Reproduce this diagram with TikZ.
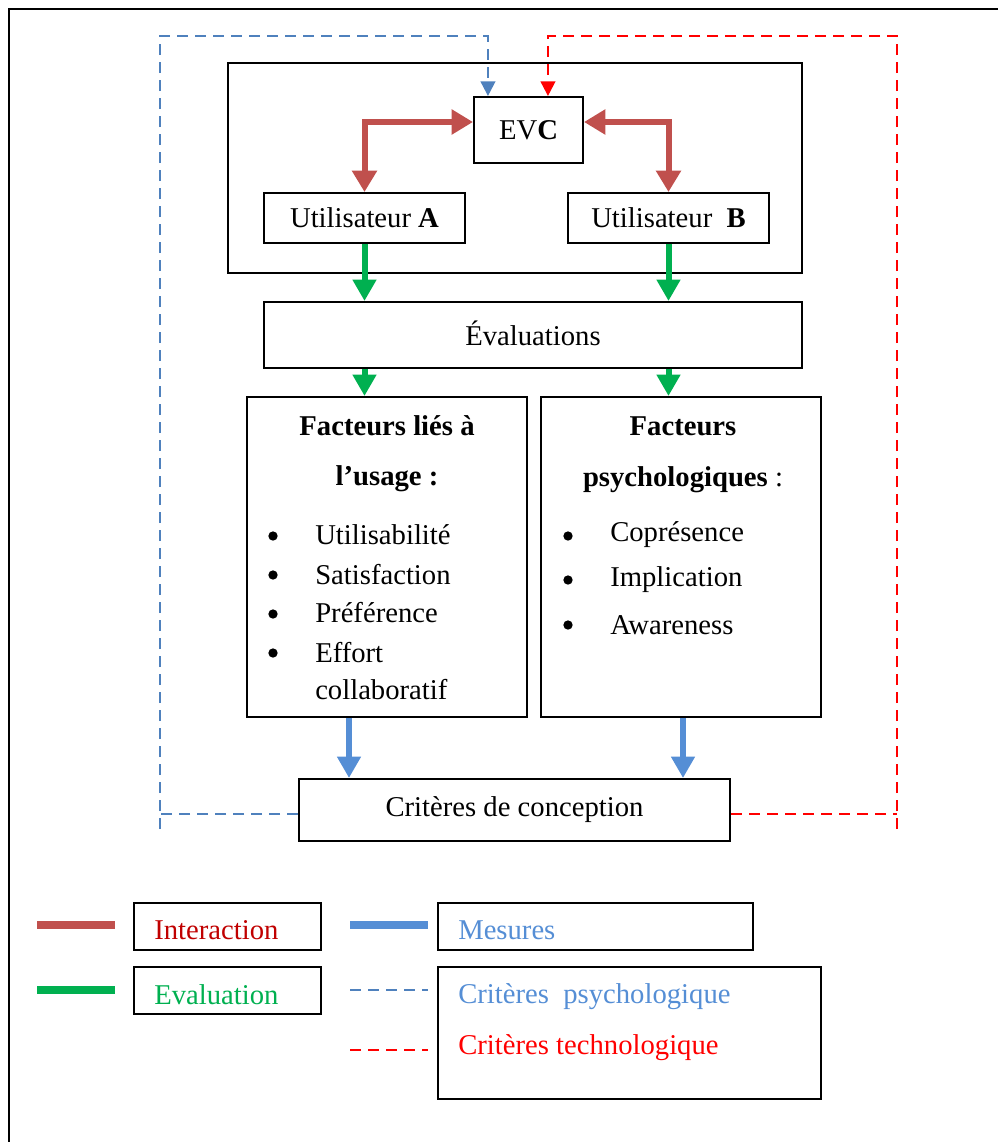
\documentclass[tikz,border=0pt]{standalone}
\usepackage{fontspec}
\setmainfont{Liberation Serif}
\usetikzlibrary{arrows.meta,calc}
\definecolor{redA}{HTML}{C0504D}
\definecolor{greenA}{HTML}{00B050}
\definecolor{blueA}{HTML}{558ED5}
\definecolor{blueD}{HTML}{4F81BD}
\definecolor{redD}{HTML}{FF0000}
\definecolor{darkred}{HTML}{C00000}
\newcommand\dfont{\fontsize{21.5}{26}\selectfont}
\begin{document}
\begin{tikzpicture}[x=0.75pt,y=-0.75pt,
  every node/.style={font=\dfont},
  boxn/.style={draw,line width=1.5pt,inner sep=0pt,align=center},
  txt/.style={inner sep=0pt},
  bul/.style={circle,fill=black,inner sep=0pt,minimum size=7pt},
  bigtip/.style={-{Triangle[width=17pt,length=16pt]}},
  redarrow/.style={draw=redA,line width=4.5pt,{Triangle[width=18pt,length=16pt]}-{Triangle[width=18pt,length=16pt]}},
  greenarrow/.style={draw=greenA,line width=4.5pt,bigtip},
  bluearrow/.style={draw=blueA,line width=4.5pt,bigtip},
  bluedash/.style={draw=blueD,line width=1.6pt,dash pattern=on 8pt off 5.5pt},
  reddash/.style={draw=redD,line width=1.6pt,dash pattern=on 8pt off 5.5pt},
  smalltip/.style={-{Triangle[width=11pt,length=11pt]}}
]
\useasboundingbox (0,0) rectangle (998,1142);
% outer frame
\coordinate (fbl) at (9,1142);
\coordinate (ftl) at (9,9);
\coordinate (ftr) at (998,9);
\draw[line width=1.6pt] (fbl) -- (ftl) -- (ftr);

% boxes
\node[boxn,minimum width=430.5pt,minimum height=157.5pt] (inner) at (515,168) {};
\node[boxn,minimum width=81.75pt,minimum height=49.5pt] (evc) at (528.5,130) {EV\textbf{C}};
\node[boxn,minimum width=150.75pt,minimum height=37.5pt] (ua) at (364.5,218) {\raisebox{-3pt}{Utilisateur \textbf{A}}};
\node[boxn,minimum width=150.75pt,minimum height=37.5pt] (ub) at (668.5,218) {\raisebox{-3pt}{Utilisateur\ \ \textbf{B}}};
\node[boxn,minimum width=403.5pt,minimum height=49.5pt] (eval) at (533,335) {\raisebox{3pt}{Évaluations}};
\node[boxn,minimum width=210pt,minimum height=240pt] (f1) at (387,557) {};
\node[boxn,minimum width=210pt,minimum height=240pt] (f2) at (681,557) {};
\node[boxn,minimum width=323.25pt,minimum height=46.5pt] (crit) at (514.5,810) {Critères de conception};

% factor texts
\node[txt] (f1a) at (387,426) {\textbf{Facteurs liés à}};
\node[txt] (f1b) at (387,479) {\textbf{l’usage :}};
\node[bul] (b1) at (273,536) {};
\node[bul] (b2) at (273,575) {};
\node[bul] (b3) at (273,614) {};
\node[bul] (b4) at (273,653) {};
\node[txt,anchor=west] (i1) at (315,535) {Utilisabilité};
\node[txt,anchor=west] (i2) at (315,575) {Satisfaction};
\node[txt,anchor=west] (i3) at (315,613) {Préférence};
\node[txt,anchor=west] (i4) at (315,653) {Effort};
\node[txt,anchor=west] (i5) at (315,690) {collaboratif};

\node[txt] (f2a) at (683,426) {\textbf{Facteurs}};
\node[txt] (f2b) at (683,480) {\textbf{psychologiques} :};
\node[bul] (c1) at (568,536) {};
\node[bul] (c2) at (568,580) {};
\node[bul] (c3) at (568,625) {};
\node[txt,anchor=west] (j1) at (610,535) {Coprésence};
\node[txt,anchor=west] (j2) at (610,580) {Implication};
\node[txt,anchor=west] (j3) at (610,625) {Awareness};

% red interaction arrows
\draw[redarrow] (ua.north) |- ([yshift=6pt]evc.west);
\draw[redarrow] (ub.north) |- ([yshift=6pt]evc.east);

% green arrows
\draw[greenarrow] (ua.south) -- (ua.south |- eval.north);
\draw[greenarrow] (ub.south) -- (ub.south |- eval.north);
\draw[greenarrow] (eval.south -| ua.south) -- (f1.north -| ua.south);
\draw[greenarrow] (eval.south -| ub.south) -- (f2.north -| ub.south);

% blue measure arrows
\draw[bluearrow] ([xshift=-28.5pt]f1.south) -- ([xshift=-28.5pt]f1.south |- crit.north);
\draw[bluearrow] ([xshift=1.5pt]f2.south) -- ([xshift=1.5pt]f2.south |- crit.north);

% dashed feedback loops
\coordinate (bb) at (160,829);
\coordinate (bt) at (160,36);
\coordinate (rb) at (897,829);
\coordinate (rt) at (897,36);
\draw[bluedash,smalltip] (bb) -- (bt) -| ([xshift=-30.4pt]evc.north);
\draw[reddash,smalltip] (rb) -- (rt) -| ([xshift=14.6pt]evc.north);
\draw[bluedash] ([yshift=-3pt]crit.west) -- ([yshift=-3pt]crit.west -| bb);
\draw[reddash] ([yshift=-3pt]crit.east) -- ([yshift=-3pt]crit.east -| rb);

% legend
\node[boxn,minimum width=140.25pt,minimum height=35.25pt] (li) at (227.5,926.5) {};
\node[boxn,minimum width=140.25pt,minimum height=35.25pt] (le) at (227.5,990.5) {};
\node[boxn,minimum width=236.25pt,minimum height=35.25pt] (lm) at (595.5,926.5) {};
\node[boxn,minimum width=287.25pt,minimum height=99pt] (lc) at (629.5,1033) {};
\node[txt,anchor=west,text=darkred] (ti) at (154,930) {Interaction};
\node[txt,anchor=west,text=greenA] (te) at (154,995) {Evaluation};
\node[txt,anchor=west,text=blueA] (tm) at (458,930) {Mesures};
\node[txt,anchor=west,text=blueA] (tp) at (458,997) {Critères\ \ psychologique};
\node[txt,anchor=west,text=redD] (tt) at (458,1048) {Critères technologique};

\coordinate (l1a) at (37,925); \coordinate (l1b) at (115,925);
\coordinate (l2a) at (37,990); \coordinate (l2b) at (115,990);
\coordinate (l3a) at (350,925); \coordinate (l3b) at (428,925);
\coordinate (l4a) at (350,990); \coordinate (l4b) at (428,990);
\coordinate (l5a) at (350,1050); \coordinate (l5b) at (428,1050);
\draw[draw=redA,line width=6pt] (l1a) -- (l1b);
\draw[draw=greenA,line width=5.5pt] (l2a) -- (l2b);
\draw[draw=blueA,line width=5.5pt] (l3a) -- (l3b);
\draw[bluedash] (l4a) -- (l4b);
\draw[reddash] (l5a) -- (l5b);
\end{tikzpicture}
\end{document}
